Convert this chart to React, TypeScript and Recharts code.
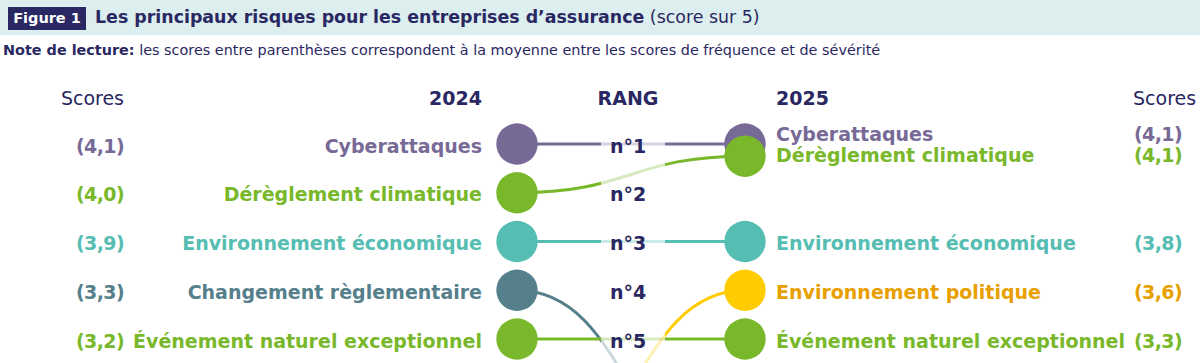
import React from 'react';
import { ComposedChart, Line, Scatter, XAxis, YAxis } from 'recharts';

// risques, dans l'ordre de tracé
const risks = [
  'Cyberattaques',
  'Dérèglement climatique',
  'Environnement économique',
  'Changement règlementaire',
  'Événement naturel exceptionnel',
  'Environnement politique',
];
const keys = ['cyber', 'climat', 'eco', 'regl', 'naturel', 'politique'];
// rang 8 = hors du top 5 (sort du cadre)
const rank2024 = [1, 2, 3, 4, 5, 8];
const rank2025 = [1, 1, 3, 8, 5, 4];
const scores2024 = ['(4,1)', '(4,0)', '(3,9)', '(3,3)', '(3,2)', null];
const scores2025 = ['(4,1)', '(4,1)', '(3,8)', null, '(3,3)', '(3,6)'];
const rankLabels = ['n°1', 'n°2', 'n°3', 'n°4', 'n°5'];
const years = ['2024', '2025'];

const dotColors = ['#786a96', '#78b82a', '#55bdb2', '#567f8c', '#78b82a', '#ffcc00'];
const textColors = ['#786a96', '#78b82a', '#55bdb2', '#567f8c', '#78b82a', '#e8a000'];

const NAVY = '#2a2862';
const FONT = '"DejaVu Sans", sans-serif';
const W = 1200;
const H = 540;
const LEFT = 517;
const RIGHT = 745;
const MID = 0.487;

// ex aequo : le second point est décalé d'un quart de rang
const shown2025 = rank2025.map((r, i) => (rank2025.slice(0, i).includes(r) ? r + 0.25 : r));
const tieShift = rank2025.map((r, i) => {
  const dup = rank2025.filter((v) => v === r).length > 1;
  if (!dup) return 0;
  return rank2025.slice(0, i).includes(r) ? -2.5 : -11.5;
});

const data = [0, 1].map((x) => {
  const row: any = { x };
  keys.forEach((k, i) => {
    row[k] = x === 0 ? rank2024[i] : shown2025[i];
  });
  return row;
});

const rankData = rankLabels.map((label, i) => ({ x: MID, y: i + 1, label }));
const headerData = [
  { x: 0, y: 0, label: years[0] },
  { x: MID, y: 0, label: 'RANG' },
  { x: 1, y: 0, label: years[1] },
];

const fadeStart = (LEFT + 0.37 * (RIGHT - LEFT)) / W;
const fadeEnd = (LEFT + 0.65 * (RIGHT - LEFT)) / W;

const renderLabel = (i: number) => (p: any) => {
  const { x, y, index } = p;
  const score = index === 0 ? scores2024[i] : scores2025[i];
  if (!score) return null;
  const left = index === 0;
  const by = y + 8.7 + (left ? 0 : tieShift[i]);
  const style = { fontFamily: FONT, fontSize: 19, fontWeight: 700, fill: textColors[i] };
  return (
    <g key={`lab-${i}-${index}`}>
      <text x={left ? x - 35 : x + 31} y={by} textAnchor={left ? 'end' : 'start'} style={style}>
        {risks[i]}
      </text>
      <text x={left ? x - 393 : x + 389} y={by} textAnchor={left ? 'end' : 'start'}
        style={{ ...style, letterSpacing: -0.6 }}>
        {score}
      </text>
    </g>
  );
};

const RankMark = (p: any) => (
  <text x={p.cx} y={p.cy + 8.7} textAnchor="middle"
    style={{ fontFamily: FONT, fontSize: 19, fontWeight: 700, fill: NAVY }}>
    {p.payload.label}
  </text>
);

const HeaderMark = (p: any) => {
  const { cx, cy, payload } = p;
  const y = cy + 9.5;
  const bold = { fontFamily: FONT, fontSize: 19, fontWeight: 700, fill: NAVY };
  const reg = { fontFamily: FONT, fontSize: 19, fontWeight: 400, fill: NAVY };
  if (payload.x === 0) {
    return (
      <g>
        <text x={cx - 35} y={y} textAnchor="end" style={bold}>{payload.label}</text>
        <text x={cx - 393} y={y} textAnchor="end" style={reg}>Scores</text>
      </g>
    );
  }
  if (payload.x === 1) {
    return (
      <g>
        <text x={cx + 31} y={y} textAnchor="start" style={bold}>{payload.label}</text>
        <text x={cx + 388} y={y} textAnchor="start" style={reg}>Scores</text>
      </g>
    );
  }
  return <text x={cx} y={y} textAnchor="middle" style={bold}>{payload.label}</text>;
};

export default function App() {
  return (
    <div style={{ position: 'relative', width: W, height: 363, overflow: 'hidden', fontFamily: FONT, color: NAVY }}>
      <style>{'body{margin:0;overflow:hidden}'}</style>
      <div style={{ position: 'absolute', left: 0, top: 0, width: W, height: 35, background: '#ddeeee' }} />
      <div style={{
        position: 'absolute', left: 8, top: 7, width: 78, height: 23, background: NAVY, color: '#fff',
        fontWeight: 700, fontSize: 14.5, lineHeight: '23px', textAlign: 'center',
      }}>
        Figure 1
      </div>
      <div style={{ position: 'absolute', left: 95, top: 0, height: 35, lineHeight: '35px', fontSize: 17.4, whiteSpace: 'nowrap' }}>
        <b>Les principaux risques pour les entreprises d’assurance</b> (score sur 5)
      </div>
      <div style={{ position: 'absolute', left: 3, top: 41, lineHeight: '18px', fontSize: 14.4, whiteSpace: 'nowrap' }}>
        <b>Note de lecture:</b> les scores entre parenthèses correspondent à la moyenne entre les scores de fréquence et de sévérité
      </div>
      <div style={{ position: 'absolute', left: 0, top: 0 }}>
        <ComposedChart width={W} height={H} data={data}
          margin={{ top: 95.25, right: W - RIGHT, bottom: H - 534, left: LEFT }}>
          <defs>
            {keys.map((k, i) => (
              <linearGradient key={k} id={`g-${k}`} gradientUnits="userSpaceOnUse" x1={0} y1={0} x2={W} y2={0}>
                <stop offset={fadeStart} stopColor={dotColors[i]} stopOpacity={1} />
                <stop offset={fadeStart} stopColor={dotColors[i]} stopOpacity={0.3} />
                <stop offset={fadeEnd} stopColor={dotColors[i]} stopOpacity={0.3} />
                <stop offset={fadeEnd} stopColor={dotColors[i]} stopOpacity={1} />
              </linearGradient>
            ))}
          </defs>
          <XAxis type="number" dataKey="x" domain={[0, 1]} hide />
          <YAxis type="number" domain={[0, 9]} reversed hide />
          {keys.map((k, i) => (
            <Line key={k} dataKey={k} type="bumpX" stroke={`url(#g-${k})`} strokeWidth={3}
              isAnimationActive={false}
              dot={(p: any) => <circle key={`d-${k}-${p.index}`} cx={p.cx} cy={p.cy} r={20.7} fill={dotColors[i]} />}
              activeDot={false}
              label={renderLabel(i)} />
          ))}
          <Scatter data={rankData} dataKey="y" shape={RankMark} isAnimationActive={false} />
          <Scatter data={headerData} dataKey="y" shape={HeaderMark} isAnimationActive={false} />
        </ComposedChart>
      </div>
    </div>
  );
}
